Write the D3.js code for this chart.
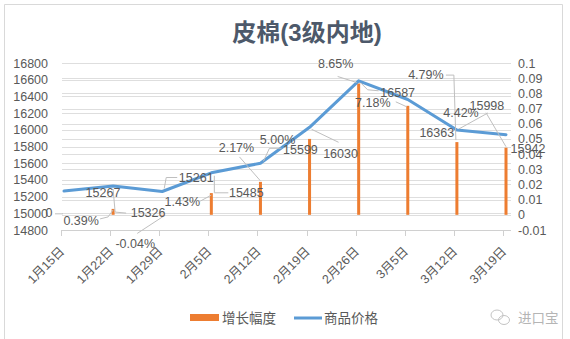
<!DOCTYPE html>
<html>
<head>
<meta charset="utf-8">
<script src="https://cdn.jsdelivr.net/npm/d3@7/dist/d3.min.js"></script>
<style>
  html, body { margin: 0; padding: 0; background: #fff; }
  svg { display: block; }
  text { font-family: "Liberation Sans", "Noto Sans CJK SC", sans-serif; }
</style>
</head>
<body>
<svg id="chart" width="570" height="339"></svg>
<script>
// Weekly lint cotton price (grade 3, inland) and its week-on-week growth
const categories = ['1月15日', '1月22日', '1月29日', '2月5日', '2月12日', '2月19日', '2月26日', '3月5日', '3月12日', '3月19日'];
const priceValues = [15267, 15326, 15261, 15485, 15599, 16030, 16587, 16363, 15998, 15942];
const growthValues = [0, 0.0039, -0.0004, 0.0143, 0.0217, 0.0500, 0.0865, 0.0718, 0.0479, 0.0442];
const leftTicks = [14800, 15000, 15200, 15400, 15600, 15800, 16000, 16200, 16400, 16600, 16800];
const rightTicks = [-0.01, 0, 0.01, 0.02, 0.03, 0.04, 0.05, 0.06, 0.07, 0.08, 0.09, 0.1];
const rightTickLabels = ['-0.01', '0', '0.01', '0.02', '0.03', '0.04', '0.05', '0.06', '0.07', '0.08', '0.09', '0.1'];
const seriesNames = ['增长幅度', '商品价格'];
const title = '皮棉(3级内地)';

// Label placement: offset of the label centre from its mark, plus leader-line vertices (also relative to the mark)
const priceLabelLayout = [
  { dx: 39, dy: 2, leader: null },
  { dx: 35, dy: 27, leader: [[0, 3], [2, 26], [13, 27]] },
  { dx: 34, dy: -14, leader: [[2, -3], [4, -14], [15, -14]] },
  { dx: 35, dy: 20, leader: [[3, 3], [3, 20], [17, 20]] },
  { dx: 40, dy: -14, leader: [[3, -2], [9, -15], [21, -15]] },
  { dx: 31, dy: 26, leader: [[2, 2], [29, 15]] },
  { dx: 39, dy: 12, leader: [[2, 2], [9, 9], [20, 10]] },
  { dx: 29, dy: 33, leader: null },
  { dx: 30, dy: -24, leader: [[2, -1], [31, -17]] },
  { dx: 22, dy: 14, leader: null }
];
const growthLabelLayout = [
  { dx: -15, dy: -2, leader: [[-1, -1], [-9, -1]] },
  { dx: -32, dy: 12, leader: [[0, 1], [-5, 8], [-13, 10]] },
  { dx: -27, dy: 28, leader: [[1, 1], [-25, 18]] },
  { dx: -29, dy: 9, leader: [[0, 2], [-11, 8]] },
  { dx: -24, dy: -34, leader: [[0, -1], [-21, -25]] },
  { dx: -32, dy: 1, leader: null },
  { dx: -23, dy: -20, leader: [[-2, -1], [-21, -7]] },
  { dx: -35, dy: -3, leader: [[-1, 1], [-12, -4]] },
  { dx: -31, dy: -67, leader: [[-1, -2], [-3, -67], [-11, -67]] },
  { dx: -45, dy: -35, leader: [[0, -1], [-20, -35]] }
];

const svg = d3.select('#chart');
const plot = { left: 62, right: 511, top: 63, bottom: 230 };
const textColor = '#595959';
const gridColor = '#dedede';
const barColor = '#ED7D31';
const lineColor = '#5B9BD5';

// chart frame
svg.append('path')
  .attr('d', 'M4.5,339 V4.5 H562.5 V339')
  .attr('fill', 'none').attr('stroke', '#d9d9d9').attr('stroke-width', 1);

// title
svg.append('text')
  .attr('x', 307).attr('y', 41)
  .attr('text-anchor', 'middle')
  .attr('font-family', '"Noto Sans CJK SC", sans-serif')
  .attr('font-size', 24).attr('font-weight', 'bold')
  .attr('fill', '#4d596a')
  .text(title);

const x = d3.scalePoint().domain(categories).range([64, 506]);
const yLeft = d3.scaleLinear().domain([14800, 16800]).range([plot.bottom, plot.top]);
const yRight = d3.scaleLinear().domain([-0.01, 0.1]).range([plot.bottom, plot.top]);

// gridlines for both value axes
const grid = svg.append('g');
grid.selectAll('line.gl').data(leftTicks).join('line')
  .attr('x1', plot.left).attr('x2', plot.right)
  .attr('y1', d => Math.round(yLeft(d)) + 0.5).attr('y2', d => Math.round(yLeft(d)) + 0.5)
  .attr('stroke', gridColor);
grid.selectAll('line.gr').data(rightTicks).join('line')
  .attr('x1', plot.left).attr('x2', plot.right)
  .attr('y1', d => Math.round(yRight(d)) + 0.5).attr('y2', d => Math.round(yRight(d)) + 0.5)
  .attr('stroke', gridColor);

// left axis (price)
const leftAxis = svg.append('g')
  .attr('transform', 'translate(48,0)')
  .call(d3.axisLeft(yLeft).tickValues(leftTicks).tickSize(0).tickPadding(0).tickFormat(d3.format('d')));
leftAxis.select('.domain').remove();
leftAxis.selectAll('text').attr('fill', textColor).attr('font-size', 12.5)
  .attr('font-family', '"Liberation Sans", sans-serif');

// right axis (growth)
const rightAxis = svg.append('g')
  .attr('transform', 'translate(518,0)')
  .call(d3.axisRight(yRight).tickValues(rightTicks).tickSize(0).tickPadding(0)
    .tickFormat((d, i) => rightTickLabels[i]));
rightAxis.select('.domain').remove();
rightAxis.selectAll('text').attr('fill', textColor).attr('font-size', 12.5)
  .attr('font-family', '"Liberation Sans", sans-serif');

// category axis
const xAxis = svg.append('g').attr('transform', `translate(0,${plot.bottom})`);
xAxis.append('line')
  .attr('x1', plot.left).attr('x2', plot.right).attr('y1', 0.5).attr('y2', 0.5)
  .attr('stroke', '#d0d0d0');
xAxis.selectAll('line.tick').data(categories).join('line')
  .attr('x1', d => Math.round(x(d) - 3) + 0.5).attr('x2', d => Math.round(x(d) - 3) + 0.5)
  .attr('y1', 0).attr('y2', 6)
  .attr('stroke', '#d0d0d0');
xAxis.selectAll('text').data(categories).join('text')
  .attr('transform', d => `translate(${x(d) - 2},${19}) rotate(-45)`)
  .attr('text-anchor', 'end')
  .attr('dy', '0.35em')
  .attr('font-size', 12.5)
  .attr('fill', textColor)
  .text(d => d);

// growth bars
svg.append('g').selectAll('rect').data(growthValues).join('rect')
  .attr('x', (d, i) => x(categories[i]) - 1.5)
  .attr('width', 3)
  .attr('y', d => Math.min(yRight(d), yRight(0)))
  .attr('height', d => Math.abs(yRight(d) - yRight(0)))
  .attr('fill', barColor);

// price line
svg.append('path')
  .datum(priceValues)
  .attr('d', d3.line().x((d, i) => x(categories[i])).y(d => yLeft(d)))
  .attr('fill', 'none')
  .attr('stroke', lineColor)
  .attr('stroke-width', 3)
  .attr('stroke-linejoin', 'round')
  .attr('stroke-linecap', 'round');

// data labels with leader lines
const fmtPct = v => v === 0 ? '0' : (v * 100).toFixed(2) + '%';
const labelItems = [];
priceValues.forEach((v, i) => {
  labelItems.push({ ax: x(categories[i]), ay: yLeft(v), text: String(v), lay: priceLabelLayout[i] });
});
growthValues.forEach((v, i) => {
  labelItems.push({ ax: x(categories[i]), ay: yRight(v), text: fmtPct(v), lay: growthLabelLayout[i] });
});

const leaders = svg.append('g');
labelItems.filter(d => d.lay.leader).forEach(d => {
  leaders.append('polyline')
    .attr('points', d.lay.leader.map(p => `${d.ax + p[0]},${d.ay + p[1]}`).join(' '))
    .attr('fill', 'none')
    .attr('stroke', '#bfbfbf')
    .attr('stroke-width', 1);
});

svg.append('g').selectAll('text').data(labelItems).join('text')
  .attr('x', d => d.ax + d.lay.dx)
  .attr('y', d => d.ay + d.lay.dy)
  .attr('dy', '0.35em')
  .attr('text-anchor', 'middle')
  .attr('font-size', 12.5)
  .attr('fill', textColor)
  .text(d => d.text);

// legend
const legend = svg.append('g');
legend.append('rect').attr('x', 190).attr('y', 314).attr('width', 29).attr('height', 7).attr('fill', barColor);
legend.append('text').attr('x', 222).attr('y', 318).attr('dy', '0.35em')
  .attr('font-family', '"Noto Sans CJK SC", sans-serif')
  .attr('font-size', 13.5).attr('fill', textColor).text(seriesNames[0]);
legend.append('line').attr('x1', 294).attr('x2', 322).attr('y1', 318).attr('y2', 318)
  .attr('stroke', lineColor).attr('stroke-width', 3);
legend.append('text').attr('x', 324).attr('y', 318).attr('dy', '0.35em')
  .attr('font-family', '"Noto Sans CJK SC", sans-serif')
  .attr('font-size', 13.5).attr('fill', textColor).text(seriesNames[1]);

// watermark
const wm = svg.append('g').attr('fill', 'none').attr('stroke', '#c4c4c4').attr('stroke-width', 1);
wm.append('ellipse').attr('cx', 497).attr('cy', 315).attr('rx', 6).attr('ry', 5);
wm.append('ellipse').attr('cx', 504).attr('cy', 320).attr('rx', 5.5).attr('ry', 4.5);
svg.append('text').attr('x', 518).attr('y', 318).attr('dy', '0.35em')
  .attr('font-family', '"Noto Sans CJK SC", sans-serif')
  .attr('font-size', 13.5).attr('fill', '#b5b5b5').text('进口宝');
</script>
</body>
</html>
